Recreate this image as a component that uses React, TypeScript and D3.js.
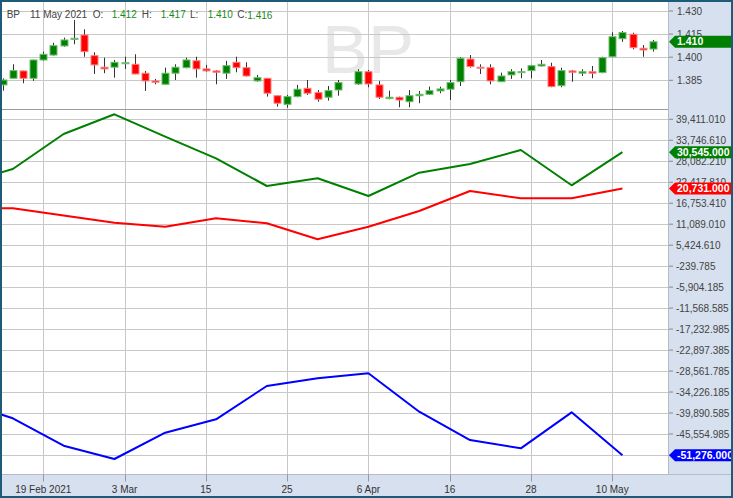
import React from "react";
import * as d3 from "d3";

// candle data, one per trading session (index 34 has no bar)
const opens = [1.382, 1.3863, 1.3911, 1.3863, 1.3982, 1.4014, 1.4073, 1.4116, 1.4144, 1.401, 1.3935, 1.3935, 1.3958, 1.3954, 1.3896, 1.3846, 1.3824, 1.3896, 1.3932, 1.3977, 1.3924, 1.3911, 1.3896, 1.3967, 1.3932, 1.3846, 1.3863, 1.375, 1.3694, 1.3744, 1.3798, 1.377, 1.374, 1.3787, null, 1.3826, 1.3906, 1.382, 1.3731, 1.374, 1.3711, 1.375, 1.3759, 1.3781, 1.3792, 1.3841, 1.3988, 1.3935, 1.3932, 1.3841, 1.3885, 1.39, 1.3913, 1.3943, 1.3939, 1.3815, 1.3911, 1.3896, 1.3906, 1.39, 1.4003, 1.412, 1.4149, 1.4058, 1.4053];
const highs = [1.3863, 1.3954, 1.3913, 1.3984, 1.4036, 1.4094, 1.4127, 1.4242, 1.4181, 1.4032, 1.3997, 1.3982, 1.4003, 1.4019, 1.3911, 1.3859, 1.3932, 1.3954, 1.3997, 1.4003, 1.395, 1.3917, 1.3976, 1.4003, 1.3967, 1.3885, 1.3865, 1.3752, 1.3755, 1.382, 1.3852, 1.3787, 1.3813, 1.3852, null, 1.3922, 1.3917, 1.3846, 1.3783, 1.3744, 1.3787, 1.3781, 1.3809, 1.3809, 1.3852, 1.4, 1.4014, 1.3954, 1.3954, 1.39, 1.3922, 1.3928, 1.395, 1.3982, 1.3964, 1.3932, 1.3917, 1.3922, 1.3943, 1.4003, 1.4162, 1.417, 1.4159, 1.4079, 1.4112];
const lows = [1.3783, 1.3862, 1.3831, 1.3846, 1.3977, 1.401, 1.4068, 1.4084, 1.4003, 1.3891, 1.3896, 1.3867, 1.3924, 1.3889, 1.3781, 1.3824, 1.3822, 1.3852, 1.3928, 1.3867, 1.3906, 1.3824, 1.3859, 1.3902, 1.3874, 1.3841, 1.3744, 1.3679, 1.3672, 1.374, 1.3755, 1.3711, 1.3718, 1.375, null, 1.382, 1.3805, 1.3729, 1.3727, 1.3675, 1.3675, 1.3701, 1.3755, 1.3766, 1.3722, 1.3813, 1.3932, 1.3891, 1.3824, 1.384, 1.3859, 1.3863, 1.3863, 1.3939, 1.3805, 1.3805, 1.3841, 1.3878, 1.3863, 1.3896, 1.4, 1.41, 1.4051, 1.4003, 1.4036];
const closes = [1.3852, 1.3913, 1.3863, 1.3982, 1.4019, 1.4075, 1.4112, 1.4123, 1.4036, 1.395, 1.3924, 1.3967, 1.3964, 1.3891, 1.3846, 1.3837, 1.3896, 1.3935, 1.3982, 1.3924, 1.3911, 1.3902, 1.3945, 1.3932, 1.3878, 1.3867, 1.3766, 1.3701, 1.3744, 1.3792, 1.3766, 1.3727, 1.3783, 1.3835, null, 1.3906, 1.3826, 1.374, 1.374, 1.3722, 1.375, 1.3759, 1.3783, 1.3794, 1.3835, 1.3993, 1.3939, 1.3928, 1.3846, 1.3878, 1.3906, 1.3906, 1.3945, 1.3954, 1.3809, 1.3913, 1.3902, 1.3906, 1.3896, 1.3997, 1.4133, 1.416, 1.4062, 1.4047, 1.41];

const dateTickIdx = [4, 12, 20, 28, 36, 44, 52, 60];
const dateTickLabels = ["19 Feb 2021", "3 Mar", "15", "25", "6 Apr", "16", "28", "10 May"];
const priceTicks = [1.43, 1.415, 1.4, 1.385];

// weekly indicator series (x = candle index)
const lineIdx = [-4, 1, 6, 11, 16, 21, 26, 31, 36, 41, 46, 51, 56, 61];
const greenSeries = [21996, 25992, 35442, 40761, 34713, 28881, 21402, 23481, 18702, 24993, 27342, 31122, 21591, 30545];
const redSeries = [15381, 15381, 13410, 11493, 10413, 12681, 11331, 7011, 10413, 14652, 20052, 18081, 18081, 20731];
const blueSeries = [-36810, -41319, -48717, -52308, -45207, -41589, -32598, -30519, -29169, -39537, -47178, -49419, -39699, -51276];
const indTicks = [39411.01, 33746.61, 28082.21, 22417.81, 16753.41, 11089.01, 5424.61, -239.785, -5904.185, -11568.585, -17232.985, -22897.385, -28561.785, -34226.185, -39890.585, -45554.985, -51219.385];

const headerIdx = 61;
const headerDate = "11 May 2021";

const W = 733;
const H = 498;
const plotR = 668.5;
const axisTop = 474.5;
const sepY = 109.5;
const font = "'Liberation Sans', Arial, sans-serif";

const fmtInd = (v: number) => d3.format(",.3f")(v).replace("\u2212", "-");
const fmt3 = d3.format(".3f");

const Marker = ({ y, color, text }: { y: number; color: string; text: string }) => (
    <g>
        <polygon points={`669,${y} 675,${y - 6} ${W},${y - 6} ${W},${y + 6} 675,${y + 6}`} fill={color} />
        <text x={677} y={y} dy="0.35em" fill="#fff" fontSize={10.5} fontWeight="bold" fontFamily={font}>{text}</text>
    </g>
);

export default function App() {
    const x = d3.scaleLinear().domain([0, 64]).range([2.66, 652.9]);
    const yP = d3.scaleLinear().domain([1.385, 1.43]).range([80.3, 11]);
    const yI = d3.scaleLinear().domain([-45554.985, 39411.01]).range([434, 119.3]);

    const mk = (vals: number[]) =>
        d3.line<number>().x((_, i) => x(lineIdx[i])).y(d => yI(d))(vals) || "";

    const c = headerIdx;
    const hdr = [
        { lx: 92.7, l: "O:", vx: 111.7, v: opens[c] },
        { lx: 141.7, l: "H:", vx: 160.7, v: highs[c] },
        { lx: 190, l: "L:", vx: 207.7, v: lows[c] },
        { lx: 237.3, l: "C:", vx: 247.3, v: closes[c] },
    ];

    const lastClose = closes[closes.length - 1] as number;

    return (
        <div style={{ position: "absolute", left: 0, top: 0 }}>
            <svg width={W} height={H} style={{ display: "block" }}>
                <defs>
                    <clipPath id="top"><rect x={0} y={0} width={plotR} height={sepY} /></clipPath>
                    <clipPath id="bot"><rect x={0} y={sepY} width={plotR} height={axisTop - sepY} /></clipPath>
                </defs>
                <rect width={W} height={H} fill="#fff" />

                {/* watermark */}
                <text x={322} y={73} fontSize={69} fontFamily={font} fill="#e8e8e8">BP</text>

                {/* grid */}
                {dateTickIdx.map(i => (
                    <line key={"v" + i} x1={Math.round(x(i)) + 0.5} x2={Math.round(x(i)) + 0.5} y1={0} y2={axisTop} stroke="#c8c8c8" />
                ))}
                {priceTicks.map(p => (
                    <line key={"p" + p} x1={0} x2={plotR} y1={Math.round(yP(p)) + 0.5} y2={Math.round(yP(p)) + 0.5} stroke="#c8c8c8" />
                ))}
                {indTicks.map(v => (
                    <line key={"g" + v} x1={0} x2={plotR} y1={Math.round(yI(v)) + 0.5} y2={Math.round(yI(v)) + 0.5} stroke="#c8c8c8" />
                ))}
                <line x1={0} x2={plotR} y1={sepY} y2={sepY} stroke="#9a9a9a" />

                {/* candles */}
                <g clipPath="url(#top)">
                    {opens.map((o, i) => {
                        if (o == null) return null;
                        const cl = closes[i] as number;
                        const up = cl >= o;
                        const cx = Math.round(x(i)) + 0.5;
                        const top = yP(Math.max(o, cl));
                        const bh = Math.max(1, Math.abs(yP(o) - yP(cl)));
                        return (
                            <g key={i}>
                                <line x1={cx} x2={cx} y1={yP(highs[i] as number)} y2={yP(lows[i] as number)} stroke="#333" />
                                <rect x={cx - 3.5} y={top} width={7} height={bh}
                                    fill={up ? "#008000" : "#ff0000"} stroke={up ? "#6fbf6f" : "#ff8080"} strokeWidth={1} />
                            </g>
                        );
                    })}
                </g>

                {/* indicator lines */}
                <g clipPath="url(#bot)" fill="none" strokeWidth={2} strokeLinejoin="round">
                    <path d={mk(greenSeries)} stroke="#008000" />
                    <path d={mk(redSeries)} stroke="#ff0000" />
                    <path d={mk(blueSeries)} stroke="#0000ff" />
                </g>

                {/* header */}
                <g fontFamily={font} fontSize={10}>
                    <text x={6.7} y={18} fill="#444">BP</text>
                    <text x={30} y={18} fill="#444">{headerDate}</text>
                    {hdr.map((h, k) => (
                        <g key={h.l}>
                            <text x={h.lx} y={18} fill="#444">{h.l}</text>
                            <text x={h.vx} y={k === 3 ? 19 : 18} fill="#1a8a1a">{fmt3(h.v as number)}</text>
                        </g>
                    ))}
                </g>

                {/* right axis panel */}
                <rect x={plotR} y={0} width={W - plotR} height={H} fill="#d6e0ee" />
                <line x1={plotR} x2={plotR} y1={0} y2={axisTop} stroke="#b4bccb" />
                <g fontFamily={font} fontSize={10} fill="#444">
                    {priceTicks.map(p => (
                        <g key={"pl" + p}>
                            <line x1={669} x2={673} y1={yP(p)} y2={yP(p)} stroke="#888" />
                            <text x={677} y={yP(p)} dy="0.35em">{fmt3(p)}</text>
                        </g>
                    ))}
                    {indTicks.map(v => (
                        <g key={"il" + v}>
                            <line x1={669} x2={673} y1={yI(v)} y2={yI(v)} stroke="#888" />
                            <text x={676} y={yI(v)} dy="0.35em">{fmtInd(v)}</text>
                        </g>
                    ))}
                </g>

                {/* bottom axis panel */}
                <rect x={0} y={axisTop} width={W} height={H - axisTop} fill="#d6e0ee" />
                <line x1={0} x2={W} y1={axisTop} y2={axisTop} stroke="#b4bccb" />
                <g fontFamily={font} fontSize={10} fill="#333" textAnchor="middle">
                    {dateTickIdx.map((i, k) => (
                        <g key={"d" + i}>
                            <line x1={Math.round(x(i)) + 0.5} x2={Math.round(x(i)) + 0.5} y1={axisTop} y2={axisTop + 7} stroke="#999" />
                            <text x={x(i)} y={493}>{dateTickLabels[k]}</text>
                        </g>
                    ))}
                </g>

                {/* last value markers */}
                <Marker y={yP(lastClose)} color="#008000" text={fmt3(lastClose)} />
                <Marker y={yI(greenSeries[greenSeries.length - 1])} color="#008000" text={fmtInd(greenSeries[greenSeries.length - 1])} />
                <Marker y={yI(redSeries[redSeries.length - 1])} color="#ff0000" text={fmtInd(redSeries[redSeries.length - 1])} />
                <Marker y={yI(blueSeries[blueSeries.length - 1])} color="#0000ff" text={fmtInd(blueSeries[blueSeries.length - 1])} />

                {/* frame */}
                <rect x={1} y={1} width={W - 2} height={H - 2} fill="none" stroke="#1d5b79" strokeWidth={2} />
            </svg>
        </div>
    );
}
